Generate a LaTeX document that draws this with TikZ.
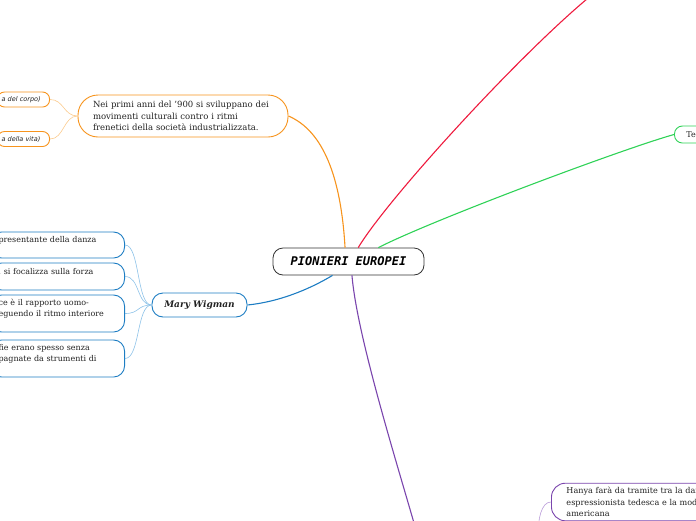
\documentclass[tikz,border=0pt]{standalone}
\usepackage{fontspec}
\setmainfont{DejaVu Serif}
\newfontfamily\monofont{DejaVu Sans Mono}
\newfontfamily\sansfont{DejaVu Sans}
\usepackage{xcolor}
\usepackage{tikz}
\definecolor{centerFrame}{HTML}{333333}
\definecolor{textColor}{HTML}{222222}
\definecolor{orangeFrame}{HTML}{F7941D}
\definecolor{orangeLight}{HTML}{FBCB8E}
\definecolor{blueFrame}{HTML}{1D7DC3}
\definecolor{blueLight}{HTML}{8CC2E8}
\definecolor{redLine}{HTML}{EE1B3E}
\definecolor{greenFrame}{HTML}{2FD257}
\definecolor{purpleFrame}{HTML}{7A45AD}
\definecolor{purpleLight}{HTML}{B99BD9}

\begin{document}
\begin{tikzpicture}[x=1pt, y=-1pt,
    mainbox/.style={draw=centerFrame, fill=white, rounded corners=10pt, line width=0.8pt,
        minimum width=151pt, minimum height=27pt, text=black,
        font=\monofont\bfseries\itshape\fontsize{12}{14}\selectfont},
    leafbox/.style={fill=white, rounded corners=11pt, line width=0.9pt, align=left,
        inner ysep=4pt, text=textColor, font=\fontsize{8}{11}\selectfont},
    branch/.style={line width=1.1pt},
    twig/.style={line width=0.6pt}]
    \path[use as bounding box, clip] (0,0) rectangle (696,520);
    % central topic
    \node[mainbox] (pionieri) at (348.5,261.5) {PIONIERI EUROPEI};
    % orange branch
    \node[leafbox, draw=orangeFrame, rounded corners=20pt, text width=180pt, inner xsep=15pt,
        minimum height=42pt, font=\fontsize{8.5}{11.5}\selectfont] (premessa) at (183,116)
        {Nei primi anni del '900 si sviluppano dei\\movimenti culturali contro i ritmi\\frenetici della società industrializzata.};
    \node[leafbox, draw=orangeFrame, anchor=east, text width=44pt, inner xsep=4pt, inner ysep=2pt,
        minimum height=15pt, rounded corners=7pt,
        font=\sansfont\itshape\fontsize{6.5}{8}\selectfont] (corpo) at (50,99.5) {a del corpo)};
    \node[leafbox, draw=orangeFrame, anchor=east, text width=44pt, inner xsep=4pt, inner ysep=2pt,
        minimum height=15pt, rounded corners=7pt,
        font=\sansfont\itshape\fontsize{6.5}{8}\selectfont] (vita) at (50,139) {a della vita)};
    % blue branch
    \node[leafbox, draw=blueFrame, minimum width=95pt, minimum height=24pt,
        font=\bfseries\itshape\fontsize{9}{11}\selectfont] (wigman) at (199.5,305) {Mary Wigman};
    \node[leafbox, draw=blueFrame, anchor=east, text width=118pt, inner xsep=8pt,
        minimum height=26pt] (danza) at (125,245) {presentante della danza\\\mbox{}};
    \node[leafbox, draw=blueFrame, anchor=east, text width=118pt, inner xsep=8pt,
        minimum height=27pt] (forza) at (125,276.5) {, si focalizza sulla forza\\\mbox{}};
    \node[leafbox, draw=blueFrame, anchor=east, text width=118pt, inner xsep=8pt,
        minimum height=37pt] (ritmo) at (125,313.5) {ce è il rapporto uomo-\\eguendo il ritmo interiore\\\mbox{}};
    \node[leafbox, draw=blueFrame, anchor=east, text width=118pt, inner xsep=8pt,
        minimum height=37pt] (strumenti) at (125,358.5) {fie erano spesso senza\\pagnate da strumenti di\\\mbox{}};
    % green branch
    \node[leafbox, draw=greenFrame, anchor=west, text width=60pt, inner xsep=12pt,
        inner ysep=2pt, minimum height=17pt, rounded corners=8pt] (te) at (674,134.5) {Te};
    % purple branch
    \node[leafbox, draw=purpleFrame, anchor=west, text width=170pt, inner xsep=15pt,
        rounded corners=14pt, font=\fontsize{8.1}{11.5}\selectfont] (hanya) at (551,502)
        {Hanya farà da tramite tra la dar\\espressionista tedesca e la mode\\americana};
    \coordinate (rosso) at (598,-10);
    \coordinate (viola) at (416,530);
    \coordinate (hanyaRadice) at (538,535);

    \draw[branch, orangeFrame] (pionieri.104) .. controls +(-4,-70) and +(35,15) .. (premessa.east);
    \draw[twig, orangeLight] (premessa.west) .. controls +(-14,0) and +(14,0) .. (corpo.east);
    \draw[twig, orangeLight] (premessa.west) .. controls +(-14,0) and +(14,0) .. (vita.east);
    \draw[branch, redLine] (pionieri.55) .. controls +(30,-50) and +(-70,55) .. (rosso);
    \draw[branch, greenFrame] (pionieri.25) .. controls +(55,-28) and +(-50,14) .. (te.west);
    \draw[branch, blueFrame] (pionieri.221) .. controls +(-25,15) and +(30,-3) .. (wigman.east);
    \foreach \leaf in {danza, forza, ritmo, strumenti}
        \draw[twig, blueLight] (wigman.west) .. controls +(-15,0) and +(15,0) .. (\leaf.east);
    \draw[branch, purpleFrame] (pionieri.284) .. controls +(5,60) and +(-20,-70) .. (viola);
    \draw[twig, purpleLight] (hanya.west) .. controls +(-10,0) and +(0,-15) .. (hanyaRadice);
\end{tikzpicture}
\end{document}
